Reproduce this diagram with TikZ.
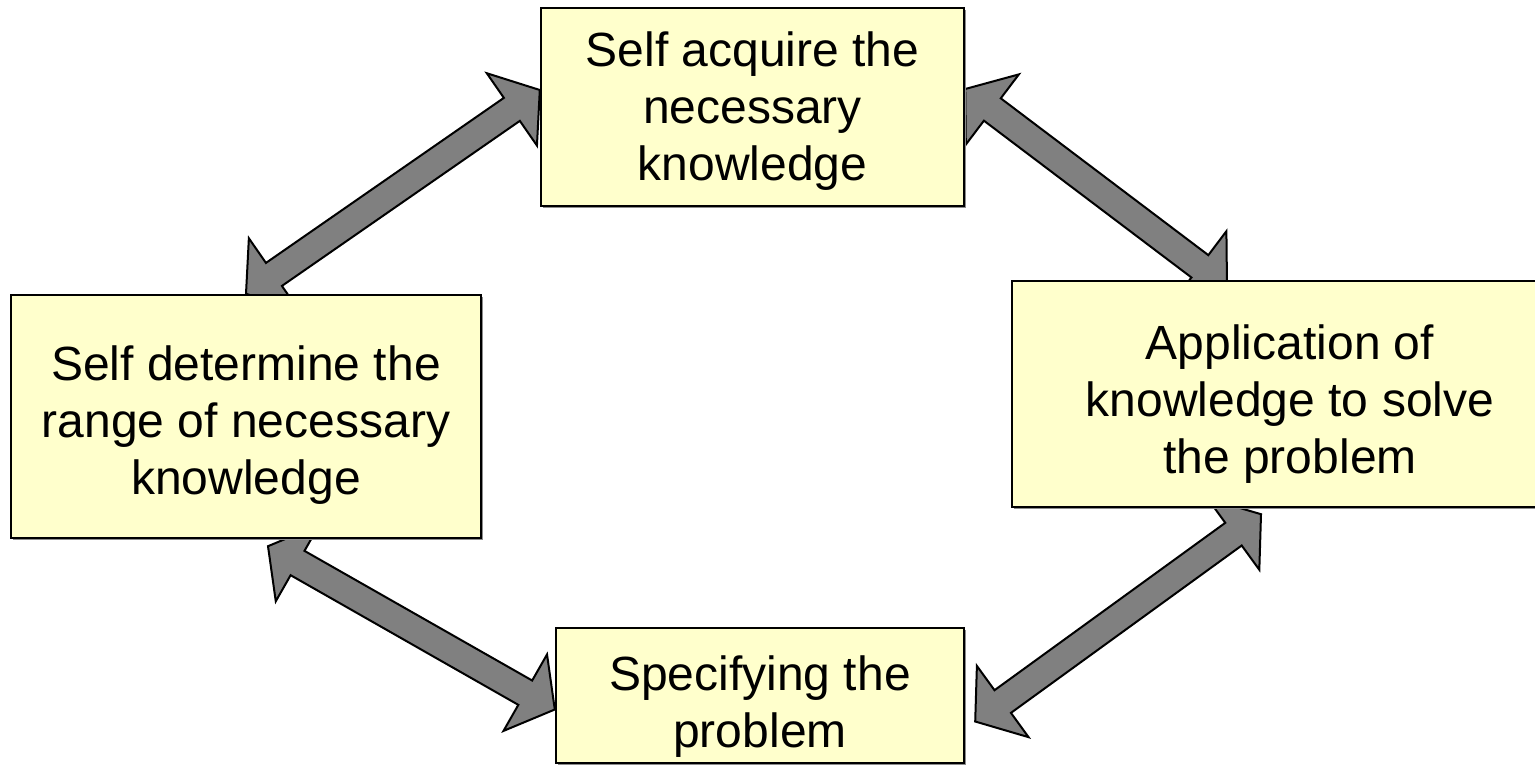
\documentclass[tikz,border=0pt]{standalone}
\usepackage{fontspec}
\setmainfont{Liberation Sans}
\usepackage{tikz}
\usetikzlibrary{calc,shadows,backgrounds}
\definecolor{paleyellow}{HTML}{FFFFCC}
\definecolor{arrowgray}{HTML}{808080}
\definecolor{ink}{HTML}{000000}
\tikzset{
  stagebox/.style={draw=ink,fill=paleyellow,line width=1.2pt,inner sep=0pt,align=center,text=ink,
    font=\fontsize{24}{28.5}\selectfont,
    drop shadow={shadow xshift=1pt,shadow yshift=-1pt,fill=black!45,opacity=1}},
  cyclearrow/.style={draw=ink,fill=arrowgray,line width=1pt,line join=miter},
}
% centred lines, drawn a little lower than the middle of the box
\newcommand{\boxlines}[2]{\raisebox{-#1}[\height][\depth]{\begin{tabular}{@{}c@{}}#2\end{tabular}}}
% block arrow with a head at both ends, between two named coordinates
\newcommand{\bothwayarrow}[2]{%
  \coordinate (ha) at ($(#1)!17pt!(#2)$);
  \coordinate (hb) at ($(#2)!17pt!(#1)$);
  \draw[cyclearrow] (#1) -- ($(ha)!22pt!90:(#2)$) -- ($(ha)!7pt!90:(#2)$)
    -- ($(hb)!7pt!90:(#2)$) -- ($(hb)!22pt!90:(#2)$) -- (#2)
    -- ($(hb)!22pt!-90:(#2)$) -- ($(hb)!7pt!-90:(#2)$)
    -- ($(ha)!7pt!-90:(#2)$) -- ($(ha)!22pt!-90:(#2)$) -- cycle;
}

\begin{document}
\begin{tikzpicture}[x=0.5pt,y=-0.5pt]
  \useasboundingbox (0,0) rectangle (1535,765);
  \node[stagebox,minimum width=211.5pt,minimum height=99pt] (acquire) at (752.5,107) {\boxlines{2.5pt}{Self acquire the\\necessary\\knowledge}};
  \node[stagebox,minimum width=235pt,minimum height=121.5pt] (range) at (246,416.5) {\boxlines{5pt}{Self determine the\\range of necessary\\knowledge}};
  \node[stagebox,minimum width=278pt,minimum height=113pt] (apply) at (1290,394) {\boxlines{5.5pt}{Application of\\knowledge to solve\\the problem}};
  \node[stagebox,minimum width=204pt,minimum height=67.5pt] (specify) at (760,695.5) {\boxlines{6pt}{Specifying the\\problem}};
  % arrow ends
  \coordinate (ra) at (range.north);
  \coordinate (ar) at ([yshift=8.5pt]acquire.west);
  \coordinate (aa) at ([yshift=9pt]acquire.east);
  \coordinate (pa) at ([xshift=-31.5pt,yshift=-3.5pt]apply.north);
  \coordinate (rs) at ([xshift=11pt,yshift=-3.5pt]range.south);
  \coordinate (sr) at ([yshift=-7pt]specify.west);
  \coordinate (sp) at ([xshift=5pt,yshift=-13pt]specify.east);
  \coordinate (ps) at ([xshift=-14.5pt,yshift=-3pt]apply.south);
  \begin{scope}[on background layer]
    \bothwayarrow{ra}{ar}
    \bothwayarrow{aa}{pa}
    \bothwayarrow{rs}{sr}
    \bothwayarrow{sp}{ps}
  \end{scope}
\end{tikzpicture}
\end{document}
